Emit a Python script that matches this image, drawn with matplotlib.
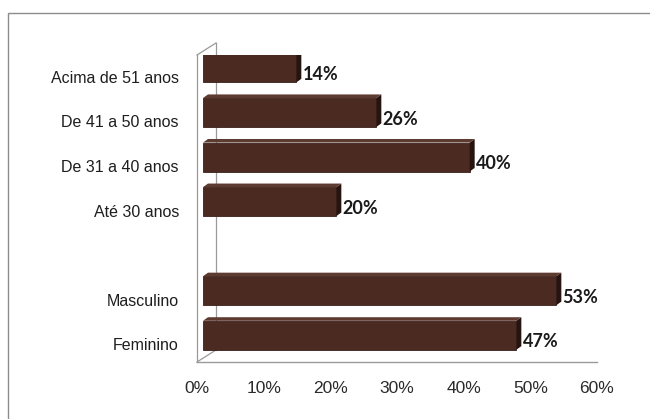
import matplotlib.pyplot as plt
from matplotlib.patches import Rectangle

# dados do gráfico (percentuais)
categorias = ['Feminino', 'Masculino', '', 'Até 30 anos', 'De 31 a 40 anos',
              'De 41 a 50 anos', 'Acima de 51 anos']
valores = [47, 53, None, 20, 40, 26, 14]
ticks_x = [0, 10, 20, 30, 40, 50, 60]

W, H = 650, 419
fig = plt.figure(figsize=(W / 100, H / 100), dpi=100)
fig.patch.set_facecolor('white')

# moldura externa
fig.patches.append(Rectangle((8 / W, -0.1), 1.1, (H - 13) / H + 0.1,
                             transform=fig.transFigure, fill=False,
                             edgecolor='#8c8c8c', linewidth=1.0))

ax = fig.add_axes([197 / W, (H - 362) / H, 400 / W, 307 / H])
y0, y1 = -0.40, 6.49
ax.set_xlim(0, 60)
ax.set_ylim(y0, y1)

frente = '#4b2a22'
lado = '#27140f'
topo = '#5e3b31'

# deslocamentos do efeito 3D (em unidades de dados)
bx, by = 0.9, 0.2      # barra dentro da profundidade
sx, sy = 0.75, 0.08    # espessura lateral da barra
px, py = 2.85, 0.27    # profundidade da parede
alt = 0.65

pos = [i for i, v in enumerate(valores) if v is not None]
vals = [v for v in valores if v is not None]

# parede lateral e piso
cor_parede = '#9a9a9a'
ax.plot([0, 0], [y0, y1], color=cor_parede, lw=0.9, clip_on=False)
ax.plot([px, px], [y0 + py, y1 + py], color=cor_parede, lw=0.9, clip_on=False)
ax.plot([0, px], [y1, y1 + py], color=cor_parede, lw=0.9, clip_on=False)
ax.plot([0, px], [y0, y0 + py], color=cor_parede, lw=0.9, clip_on=False)
ax.plot([0, 60], [y0, y0], color=cor_parede, lw=1.0, clip_on=False)

ax.barh([p + by for p in pos], vals, left=bx, height=alt, color=frente,
        edgecolor='#3a2019', linewidth=0.6, zorder=3)

for p, v in zip(pos, vals):
    yc = p + by
    xe = bx + v
    # face lateral
    ax.fill([xe, xe + sx, xe + sx, xe],
            [yc - alt / 2, yc - alt / 2 + sy, yc + alt / 2 + sy, yc + alt / 2],
            color=lado, zorder=3, lw=0)
    # face superior
    ax.fill([bx, bx + sx, xe + sx, xe],
            [yc + alt / 2, yc + alt / 2 + sy, yc + alt / 2 + sy, yc + alt / 2],
            color=topo, zorder=3, lw=0)
    ax.text(xe + sx + 0.2, p + 0.05, f'{v}%', ha='left', va='center',
            fontsize=13, fontweight='bold', family='Lato', color='#1a1a1a')

ax.set_yticks(range(len(categorias)))
ax.set_yticklabels(categorias, fontsize=11.5, family='Liberation Sans',
                   color='#1e1e1e')
ax.set_xticks(ticks_x)
ax.set_xticklabels([f'{t}%' for t in ticks_x], fontsize=12.5,
                   family='Liberation Sans', color='#2a2a2a')
ax.tick_params(axis='y', length=0, pad=13)
ax.tick_params(axis='x', length=0, pad=14)
for s in ax.spines.values():
    s.set_visible(False)
ax.set_facecolor('none')

fig.savefig('out.png', dpi=100)
